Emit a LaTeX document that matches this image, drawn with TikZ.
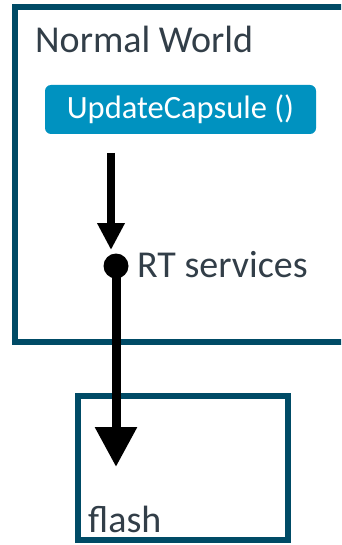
\documentclass[tikz,border=0pt]{standalone}
\usepackage{fontspec}
\setmainfont{Carlito}
\usetikzlibrary{arrows.meta}
\definecolor{boxteal}{RGB}{0,75,102}
\definecolor{btnblue}{RGB}{0,146,192}
\definecolor{txtgray}{RGB}{50,62,72}
\begin{document}
\begin{tikzpicture}[x=1pt,y=-1pt,
        frame/.style={draw=boxteal,line width=6pt},
        lbl/.style={anchor=base west,inner sep=0pt,text=txtgray,font=\fontsize{38}{40}\selectfont}]
    \useasboundingbox (0,0) rectangle (341,545);
    \begin{scope}
        \clip (0,0) rectangle (341,545);
        \draw[frame] (14.5,7.5) rectangle (360,342);
    \end{scope}
    \draw[frame] (78,395.5) rectangle (287.5,539.5);
    \node[lbl] (world) at (35,53) {Normal World};
    \node[fill=btnblue,rounded corners=6pt,minimum width=271pt,minimum height=49pt,inner sep=0pt,
        text=white,font=\fontsize{32.5}{34}\selectfont] (call) at (180.5,109.5) {UpdateCapsule ()};
    \node[circle,fill=black,minimum size=25pt,inner sep=0pt] (rt) at (116,266) {};
    \node[lbl] (rtlbl) at (137,277) {RT services};
    \node[lbl] (flash) at (88,532) {flash};
    \coordinate (a1) at (111,153);
    \coordinate (a1tip) at (111,250);
    \coordinate (a2tip) at (116,467);
    \draw[line width=8pt,-{Triangle[width=26pt,length=27pt]}] (a1) -- (a1tip);
    \draw[line width=9pt,-{Triangle[width=40pt,length=40pt]}] (rt.center) -- (a2tip);
\end{tikzpicture}
\end{document}
